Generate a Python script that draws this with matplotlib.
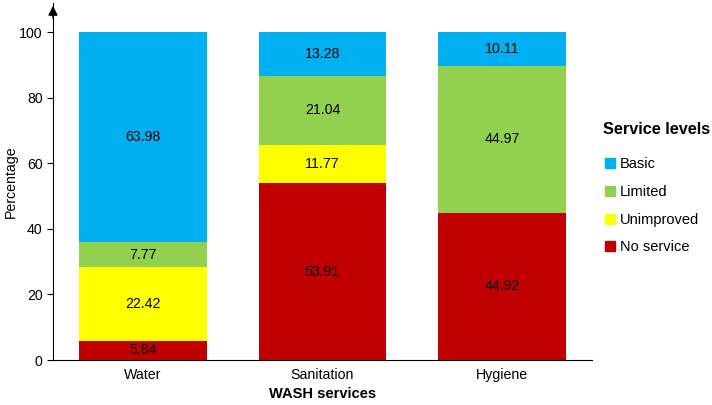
import numpy as np
import matplotlib.pyplot as plt
from matplotlib.lines import Line2D

categories = ["Water", "Sanitation", "Hygiene"]
levels = ["No service", "Unimproved", "Limited", "Basic"]
no_service = [5.84, 53.91, 44.92]
unimproved = [22.42, 11.77, 0.0]
limited = [7.77, 21.04, 44.97]
basic = [63.98, 13.28, 10.11]
colors = ["#C00000", "#FFFF00", "#92D050", "#00B0F0"]

plt.rcParams['font.family'] = ['Liberation Sans', 'DejaVu Sans']

fig = plt.figure(figsize=(7.12, 4.05), dpi=100)
ax = fig.add_axes([0.0744, 0.1111, 0.757, 0.8815])

x = np.arange(len(categories))
bottom = np.zeros(len(categories))
for vals, col in zip([no_service, unimproved, limited, basic], colors):
    vals = np.array(vals)
    ax.bar(x, vals, width=0.71, bottom=bottom, color=col)
    for xi, b, v in zip(x, bottom, vals):
        if v > 0:
            ax.text(xi, b + v / 2, f"{v:.2f}", ha="center", va="center", fontsize=10.2)
    bottom += vals

ax.set_xlim(-0.5, 2.5)
ax.set_ylim(0, 109)
ax.set_yticks([0, 20, 40, 60, 80, 100])
ax.set_xticks(x)
ax.set_xticklabels(categories, fontsize=10.2)
ax.tick_params(axis="y", labelsize=10.2, length=4)
ax.tick_params(axis="x", length=0, pad=6)
ax.spines["top"].set_visible(False)
ax.spines["right"].set_visible(False)
ax.annotate("", xy=(0, 1.0), xytext=(0, 0.95), xycoords="axes fraction",
            arrowprops=dict(arrowstyle="-|>", color="black", lw=1, mutation_scale=14))

ax.set_ylabel("Percentage", fontsize=10.2)
ax.yaxis.set_label_coords(-0.065, 0.5)
ax.set_xlabel("WASH services", fontsize=10.5, fontweight="bold", labelpad=3)

# legend: small squares, top entry first
handles = [Line2D([], [], ls="none", marker="s", markersize=6.5, color=c, label=l)
           for c, l in zip(colors[::-1], levels[::-1])]
leg = fig.legend(handles=handles, loc="upper left", bbox_to_anchor=(0.828, 0.73),
                 frameon=False, title="Service levels", fontsize=10.5,
                 handlelength=1.0, handletextpad=0.2, labelspacing=0.95)
leg.get_title().set_fontweight("bold")
leg.get_title().set_fontsize(11.7)
leg._legend_box.align = "left"
leg._legend_box.sep = 14

fig.savefig("out.png", dpi=100)
